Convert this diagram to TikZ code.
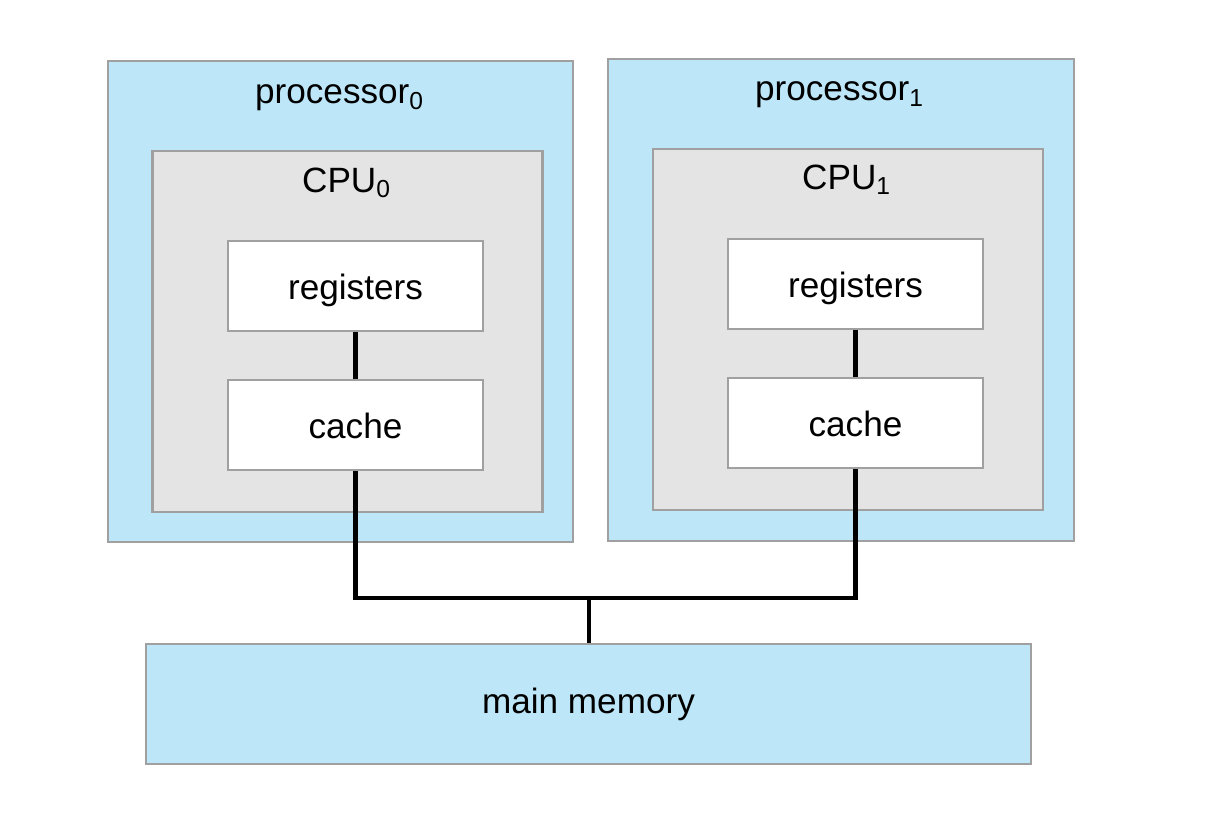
\documentclass[tikz,border=0pt]{standalone}
\usepackage{fontspec}
\setmainfont{Liberation Sans}
\usepackage{tikz}
\usetikzlibrary{positioning}
\usepackage{xcolor}
\definecolor{procblue}{RGB}{189,231,248}
\definecolor{cpugray}{RGB}{228,228,228}
\definecolor{edgegray}{RGB}{160,160,160}

\begin{document}
\begin{tikzpicture}[
    outerbox/.style = {rectangle, draw=edgegray, fill=procblue, line width=0.6pt, inner sep=0pt},
    cpubox/.style = {rectangle, draw=edgegray, fill=cpugray, line width=0.6pt, inner sep=0pt, minimum width=3.9cm, minimum height=3.61cm},
    unitbox/.style = {rectangle, draw=edgegray, fill=white, line width=0.6pt, inner sep=0pt, minimum width=2.55cm, minimum height=0.9cm, text height=1.6ex, text depth=0.1ex, font=\fontsize{10}{12}\selectfont},
    title/.style = {font=\fontsize{10}{12}\selectfont, inner sep=0pt},
    wire/.style = {draw=black, line width=1.2pt}
]
\useasboundingbox (0,0) rectangle (12.26,-8.2);

% Processors
\node (proc0) [outerbox, minimum width=4.65cm, minimum height=4.81cm, at={(3.405,-3.015)}] {};
\node (proc1) [outerbox, minimum width=4.66cm, minimum height=4.82cm, at={(8.41,-3.00)}] {};
\node (proc0_title) [title, at={(3.40,-0.98)}] {processor\textsubscript{0}};
\node (proc1_title) [title, at={(8.40,-0.95)}] {processor\textsubscript{1}};

% CPUs
\node (cpu0) [cpubox, at={(3.475,-3.315)}] {};
\node (cpu1) [cpubox, at={(8.48,-3.295)}] {};
\node (cpu0_title) [title, at={(3.47,-1.83)}] {CPU\textsubscript{0}};
\node (cpu1_title) [title, at={(8.47,-1.80)}] {CPU\textsubscript{1}};

% Registers and caches
\node (reg0) [unitbox, at={(3.555,-2.86)}] {registers};
\node (cache0) [unitbox, at={(3.555,-4.25)}] {cache};
\node (reg1) [unitbox, at={(8.555,-2.84)}] {registers};
\node (cache1) [unitbox, at={(8.555,-4.23)}] {cache};

% Main memory
\node (mem) [outerbox, minimum width=8.85cm, minimum height=1.2cm, font=\fontsize{10}{12}\selectfont, at={(5.885,-7.04)}] {main memory};

% Bus
\coordinate (bus) at (5.89,-5.98);
\draw [wire] (reg0) -- (cache0);
\draw [wire] (reg1) -- (cache1);
\draw [wire] (cache0.south) |- (bus) -| (cache1.south);
\draw [wire] (bus) -- (bus |- mem.north);

\end{tikzpicture}
\end{document}
